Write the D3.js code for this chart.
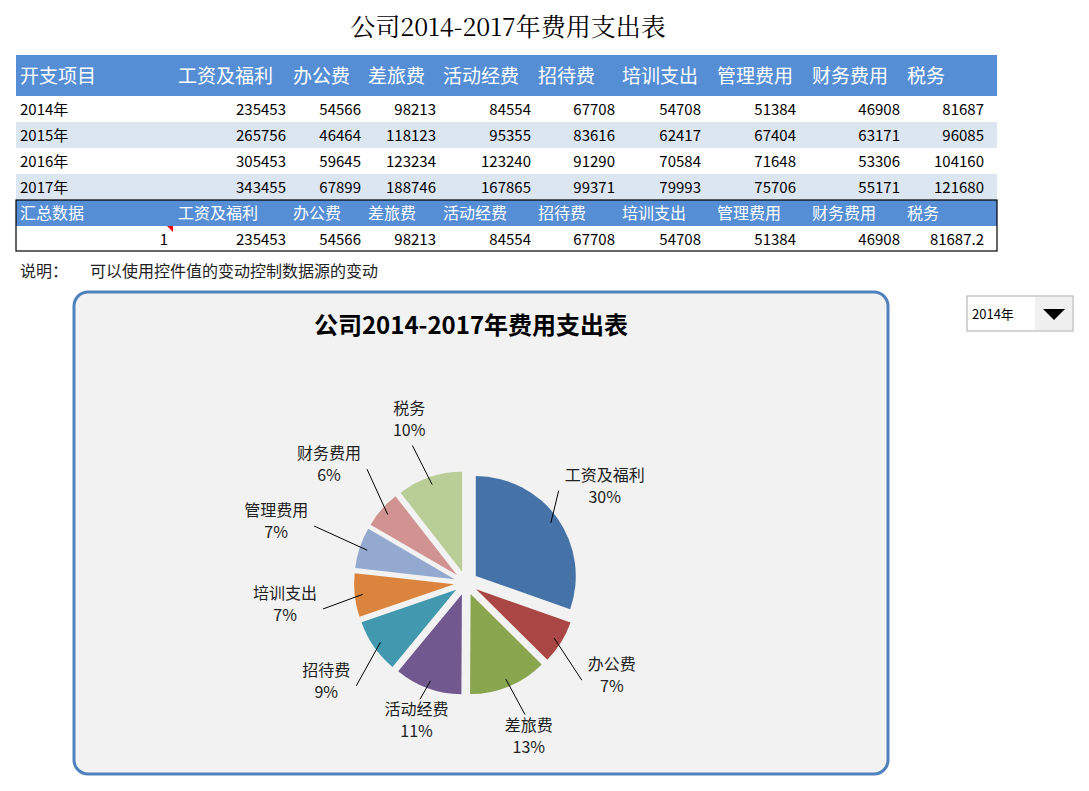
<!DOCTYPE html>
<html><head><meta charset="utf-8">
<script src="https://cdn.jsdelivr.net/npm/d3@7"></script>
<style>body{margin:0;background:#fff;font-family:"Noto Sans CJK SC",sans-serif}</style>
</head><body><svg width="1089" height="791"></svg>
<script>
const items = ['工资及福利','办公费','差旅费','活动经费','招待费','培训支出','管理费用','财务费用','税务'];
const years = ['2014年','2015年','2016年','2017年'];
const v2014 = [235453,54566,98213,84554,67708,54708,51384,46908,81687];
const v2015 = [265756,46464,118123,95355,83616,62417,67404,63171,96085];
const v2016 = [305453,59645,123234,123240,91290,70584,71648,53306,104160];
const v2017 = [343455,67899,188746,167865,99371,79993,75706,55171,121680];
const summary = ['235453','54566','98213','84554','67708','54708','51384','46908','81687.2'];
const pctLabels = ['30%','7%','13%','11%','9%','7%','7%','6%','10%'];
const colors = ['#4572a7','#aa4643','#89a54e','#71588f','#4198af','#db843d','#93a9cf','#d19392','#b9cd96'];
const labelR = [170,172,164,145,170,182,200,182,175];

const svg = d3.select('svg');
const font = '"Noto Sans CJK SC",sans-serif';

svg.append('text').attr('x',508).attr('y',36).attr('text-anchor','middle')
  .attr('font-size',25).attr('font-family','"Noto Serif CJK SC","Noto Sans CJK SC",serif').text('公司2014-2017年费用支出表');

// table
const hdrX = [20,178,293,368,443,538,622,717,812,907];
const valEnd = [286,361,436,531,615,701,796,900,984];
const rows = [v2014,v2015,v2016,v2017];
svg.append('rect').attr('x',16).attr('y',55).attr('width',981).attr('height',41).attr('fill','#558ed5');
svg.append('text').attr('x',hdrX[0]).attr('y',83).attr('fill','#fff').attr('font-size',19).text('开支项目');
items.forEach((t,i)=>svg.append('text').attr('x',hdrX[i+1]).attr('y',83).attr('fill','#fff').attr('font-size',19).text(t));
rows.forEach((r,j)=>{
  const y = 96+j*26;
  svg.append('rect').attr('x',16).attr('y',y).attr('width',981).attr('height',26).attr('fill',j%2?'#dce6f1':'#fff');
  svg.append('text').attr('x',20).attr('y',y+19).attr('font-size',15).text(years[j]);
  r.forEach((v,i)=>svg.append('text').attr('x',valEnd[i]).attr('y',y+19).attr('text-anchor','end').attr('font-size',15).text(v));
});
svg.append('rect').attr('x',16).attr('y',200).attr('width',981).attr('height',26).attr('fill','#558ed5');
svg.append('rect').attr('x',16).attr('y',200).attr('width',981).attr('height',51).attr('fill','none').attr('stroke','#000').attr('stroke-width',1.2);
svg.append('text').attr('x',20).attr('y',219).attr('fill','#fff').attr('font-size',16).text('汇总数据');
items.forEach((t,i)=>svg.append('text').attr('x',hdrX[i+1]).attr('y',219).attr('fill','#fff').attr('font-size',16).text(t));
svg.append('text').attr('x',168).attr('y',245).attr('text-anchor','end').attr('font-size',15).text('1');
svg.append('path').attr('d','M167,226 l6,0 l0,6 z').attr('fill','#e00');
summary.forEach((v,i)=>svg.append('text').attr('x',valEnd[i]).attr('y',245).attr('text-anchor','end').attr('font-size',15).text(v));
svg.append('text').attr('x',20).attr('y',277).attr('font-size',16).attr('fill','#222').text('说明：');
svg.append('text').attr('x',90).attr('y',277).attr('font-size',16).attr('fill','#222').text('可以使用控件值的变动控制数据源的变动');

// dropdown
svg.append('rect').attr('x',967).attr('y',296).attr('width',106).attr('height',35).attr('fill','#fff').attr('stroke','#aaa');
svg.append('rect').attr('x',1035).attr('y',297).attr('width',37).attr('height',33).attr('fill','#f0f0f0');
svg.append('path').attr('d','M1043,309 l22,0 l-11,11 z').attr('fill','#000');
svg.append('text').attr('x',972).attr('y',319).attr('font-size',13).text('2014年');

// chart box
svg.append('rect').attr('x',74).attr('y',292).attr('width',814).attr('height',482).attr('rx',14)
  .attr('fill','#f2f2f2').attr('stroke','#4f81bd').attr('stroke-width',3);
svg.append('text').attr('x',471).attr('y',334).attr('text-anchor','middle').attr('font-size',24)
  .attr('font-weight','bold').attr('font-family',font).text('公司2014-2017年费用支出表');

const cx = 466, cy = 583, r = 100, off = 12;
const data = items.map((n,i)=>({name:n,value:v2014[i],i}));
const arcs = d3.pie().sort(null).value(d=>d.value)(data);
const arc = d3.arc().innerRadius(0).outerRadius(r);
const g = svg.append('g').attr('transform',`translate(${cx},${cy})`);
arcs.forEach(a=>{
  const m = (a.startAngle+a.endAngle)/2, s = Math.sin(m), c = -Math.cos(m);
  g.append('path').attr('d',arc(a)).attr('transform',`translate(${s*off},${c*off})`).attr('fill',colors[a.data.i]);
  const lr = labelR[a.data.i];
  const lx = s*lr, ly = c*lr;
  const ex = s*(r*0.92+off), ey = c*(r*0.92+off);
  let tx, ty;
  if (Math.abs(s) > 0.6) {
    const hw = a.data.name.length*8 + 6;
    tx = lx - Math.sign(s)*hw; ty = ly + 6;
  } else {
    tx = lx - s*10; ty = c < 0 ? ly + 28 : ly - 20;
  }
  g.append('polyline').attr('points',`${ex},${ey} ${tx},${ty}`).attr('fill','none').attr('stroke','#000').attr('stroke-width',1);
  g.append('text').attr('x',lx).attr('y',ly-4).attr('text-anchor','middle').attr('font-size',16).attr('fill','#222').text(a.data.name);
  g.append('text').attr('x',lx).attr('y',ly+18).attr('text-anchor','middle').attr('font-size',16).attr('fill','#222').text(pctLabels[a.data.i]);
});
</script></body></html>
